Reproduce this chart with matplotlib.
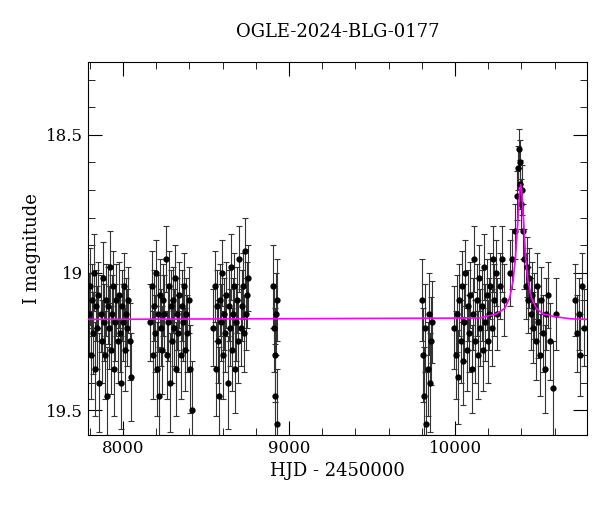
import matplotlib
matplotlib.use("Agg")
import matplotlib.pyplot as plt
from matplotlib.ticker import MultipleLocator

title = "OGLE-2024-BLG-0177"
xlabel = "HJD - 2450000"
ylabel = "I magnitude"

hjd = [7795,7802,7808,7815,7820,7826,7833,7840,7846,7852,7858,7865,7871,7878,7884,7890,7897,7903,7910,7916,7922,7929,7935,7941,7948,7954,7960,7967,7973,7980,7986,7992,7999,8005,8012,8018,8025,8031,8040,8050,
       8165,8172,8178,8185,8191,8198,8204,8211,8217,8224,8230,8236,8243,8249,8256,8262,8269,8275,8282,8288,8295,8301,8308,8314,8321,8327,8334,8340,8347,8353,8360,8366,8373,8380,8388,8396,8405,8415,
       8545,8552,8558,8565,8571,8578,8584,8591,8597,8604,8610,8617,8623,8630,8636,8643,8649,8656,8662,8669,8675,8682,8688,8695,8701,8708,8714,8721,8727,8734,8740,8748,8755,
       8905,8910,8914,8918,8922,8926,8930,
       9800,9808,9815,9821,9828,9835,9842,9848,9855,9862,
       9995,10003,10010,10018,10025,10033,10040,10048,10055,10063,10070,10078,10085,10093,10100,10108,10115,10123,10130,10138,10145,10153,10160,10168,10175,10183,10190,10198,10205,10213,10220,10228,10236,10245,10255,10268,10280,10295,
       10330,10345,10360,10372,10380,10385,10390,10394,10398,10403,10410,10418,10425,10433,10440,10448,10455,10463,10470,10478,10485,10493,10500,10510,10520,10530,10540,10550,10560,10575,10590,10610,
       10725,10735,10745,10755,10765,10775]
mag = [19.15,19.05,19.30,19.10,19.22,19.00,19.35,19.12,19.20,19.08,19.40,19.15,19.25,19.02,19.18,19.30,19.10,19.45,19.12,19.20,18.98,19.28,19.15,19.05,19.35,19.18,19.10,19.25,19.08,19.22,19.40,19.12,19.18,19.05,19.28,19.15,19.20,19.10,19.25,19.38,
       19.18,19.05,19.30,19.12,19.22,19.00,19.35,19.15,19.45,19.08,19.20,19.28,19.10,19.15,18.95,19.30,19.18,19.05,19.40,19.12,19.25,19.10,19.20,19.02,19.35,19.15,19.22,19.08,19.30,19.12,19.18,19.05,19.28,19.15,19.22,19.10,19.35,19.50,
       19.20,19.05,19.35,19.12,19.25,19.45,19.10,19.18,19.00,19.30,19.15,19.22,19.08,19.40,19.12,19.20,18.98,19.28,19.15,19.05,19.35,19.18,19.10,19.25,18.95,19.20,19.12,19.05,19.22,18.92,19.15,19.08,19.02,
       19.05,19.20,19.30,19.45,19.15,19.55,19.10,
       19.10,19.30,19.45,19.20,19.55,19.35,19.15,19.40,19.25,19.18,
       19.20,19.30,19.15,19.38,19.10,19.25,19.05,19.32,19.18,19.00,19.28,19.12,19.22,19.08,19.35,19.15,18.95,19.25,19.10,19.30,19.02,19.20,19.12,19.28,18.98,19.18,19.08,19.25,19.15,19.05,19.20,18.95,19.10,19.00,19.15,19.05,18.95,19.10,
       19.00,18.95,18.85,18.72,18.62,18.55,18.60,18.68,18.75,18.70,18.85,18.95,19.05,18.98,19.10,19.02,19.15,19.08,19.20,19.12,19.25,19.05,19.18,19.30,19.10,19.22,19.35,19.15,19.08,19.25,19.42,19.15,
       19.10,19.22,19.15,19.30,19.05,19.20]
err = [0.15,0.14,0.16,0.13,0.15,0.14,0.17,0.13,0.15,0.12,0.18,0.14,0.15,0.13,0.14,0.16,0.13,0.18,0.14,0.15,0.13,0.16,0.14,0.13,0.17,0.14,0.13,0.15,0.12,0.14,0.17,0.13,0.14,0.12,0.15,0.13,0.14,0.12,0.14,0.16,
       0.14,0.13,0.16,0.13,0.14,0.12,0.17,0.14,0.18,0.13,0.14,0.16,0.13,0.14,0.12,0.16,0.14,0.13,0.18,0.13,0.15,0.12,0.14,0.12,0.17,0.13,0.14,0.12,0.16,0.13,0.14,0.12,0.15,0.13,0.14,0.12,0.16,0.18,
       0.14,0.13,0.17,0.13,0.15,0.18,0.13,0.14,0.12,0.16,0.13,0.14,0.12,0.17,0.13,0.14,0.12,0.15,0.13,0.12,0.16,0.14,0.12,0.15,0.12,0.14,0.13,0.12,0.14,0.12,0.13,0.12,0.12,
       0.15,0.16,0.17,0.19,0.15,0.20,0.15,
       0.15,0.17,0.18,0.16,0.19,0.17,0.15,0.18,0.16,0.15,
       0.15,0.16,0.14,0.17,0.13,0.15,0.13,0.16,0.14,0.12,0.15,0.13,0.14,0.12,0.16,0.13,0.12,0.15,0.13,0.16,0.12,0.14,0.13,0.15,0.12,0.14,0.13,0.15,0.13,0.12,0.14,0.12,0.13,0.12,0.13,0.12,0.12,0.13,
       0.12,0.11,0.10,0.09,0.08,0.07,0.08,0.09,0.09,0.09,0.10,0.11,0.12,0.11,0.12,0.11,0.13,0.12,0.13,0.12,0.14,0.12,0.13,0.15,0.12,0.14,0.16,0.13,0.12,0.14,0.17,0.13,
       0.13,0.14,0.13,0.15,0.12,0.14]

model_t = [7780,10150,10250,10300,10330,10350,10365,10378,10388,10395,10402,10412,10425,10440,10460,10490,10530,10600,10700,10800]
model_m = [19.17,19.165,19.15,19.13,19.09,19.03,18.94,18.82,18.72,18.68,18.70,18.80,18.94,19.03,19.09,19.13,19.15,19.16,19.168,19.17]

plt.rcParams["font.family"] = "DejaVu Serif"
fig = plt.figure(figsize=(6.0, 5.12), dpi=100)
ax = fig.add_axes([88/600, 1-435/512, (587-88)/600, (435-62)/512])
ax.errorbar(hjd, mag, yerr=err, fmt="o", ms=3.5, color="black", ecolor="#333333",
            elinewidth=0.8, capsize=2, capthick=0.8, zorder=2)
ax.plot(model_t, model_m, color="magenta", lw=1.2, zorder=3)
ax.set_xlim(7789, 10795)
ax.set_ylim(19.59, 18.235)
ax.xaxis.set_major_locator(MultipleLocator(1000))
ax.xaxis.set_minor_locator(MultipleLocator(200))
ax.yaxis.set_major_locator(MultipleLocator(0.5))
ax.yaxis.set_minor_locator(MultipleLocator(0.1))
ax.yaxis.set_major_formatter(plt.FuncFormatter(lambda v, p: f"{v:g}"))
ax.tick_params(which="both", direction="in", top=True, right=True, labelsize=12)
ax.tick_params(which="major", length=10)
ax.tick_params(which="minor", length=5)
ax.set_xlabel(xlabel, fontsize=13)
ax.set_ylabel(ylabel, fontsize=13)
ax.set_title(title, fontsize=13, pad=18)
fig.savefig("out.png", dpi=100)
